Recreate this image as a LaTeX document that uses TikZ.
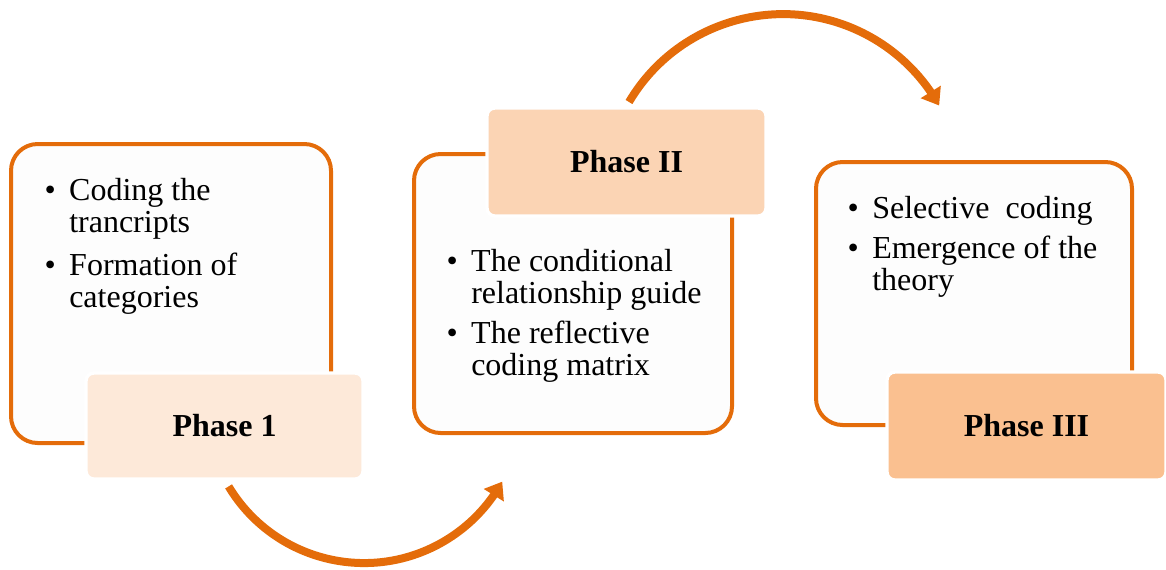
\documentclass[tikz,border=0pt]{standalone}
\usepackage{fontspec}
\setmainfont{Liberation Serif}
\usetikzlibrary{arrows.meta,bending}
\definecolor{accent}{HTML}{E46C0A}
\definecolor{tintA}{HTML}{FDE9D9}
\definecolor{tintB}{HTML}{FBD4B4}
\definecolor{tintC}{HTML}{FAC090}
\definecolor{panel}{HTML}{FDFDFD}
\tikzset{
  panelbox/.style={draw=accent, line width=3pt, fill=panel, rounded corners=20pt,
    anchor=north west, outer sep=0pt, inner sep=0pt},
  phasebox/.style={draw=white, line width=2.5pt, rounded corners=6pt,
    anchor=north west, outer sep=0pt, inner sep=0pt,
    font=\fontsize{24}{24}\selectfont\bfseries},
  bullets/.style={anchor=base west, align=left, inner sep=0pt,
    font=\fontsize{24}{24}\selectfont},
  flow/.style={draw=accent, line width=6pt, -{Triangle[width=17pt,length=12pt]}}
}
\newcommand\bitem{\llap{\textbullet\hspace{10pt}}}
\begin{document}
\begin{tikzpicture}[x=0.75pt,y=-0.75pt]
\useasboundingbox (0,0) rectangle (1166,569);
% outlined panels
\node[panelbox, minimum width=240pt, minimum height=224.25pt] (p1) at (11,144) {};
\node[panelbox, minimum width=238.5pt, minimum height=209.25pt] (p2) at (414,154) {};
\node[panelbox, minimum width=237pt, minimum height=197.25pt] (p3) at (816,162) {};
% curved arrows between phases
\coordinate (f1) at (228.6,486.4);
\draw[flow] (f1) arc[start angle=149, end angle=29, radius=158];
\coordinate (f2) at (629,102);
\draw[flow] (f2) arc[start angle=210.6, end angle=330.7, radius=179];
% phase labels
\node[phasebox, fill=tintA, minimum width=207.75pt, minimum height=79.5pt] (l1) at (86,373) {Phase 1};
\node[phasebox, fill=tintB, minimum width=209.25pt, minimum height=81pt] (l2) at (487,108) {Phase II};
\node[phasebox, fill=tintC, minimum width=209.25pt, minimum height=81pt] (l3) at (887,372) {Phase III};
% bullet lists (anchored on the baseline of their last line)
\node[bullets] (t1) at (69,307) {\bitem Coding the\\trancripts\\[8pt]\bitem Formation of\\categories};
\node[bullets] (t2) at (471,375) {\bitem The conditional\\relationship guide\\[6pt]\bitem The reflective\\coding matrix};
\node[bullets] (t3) at (872,290) {\bitem Selective\ \ coding\\[6pt]\bitem Emergence of the\\theory};
\end{tikzpicture}
\end{document}
